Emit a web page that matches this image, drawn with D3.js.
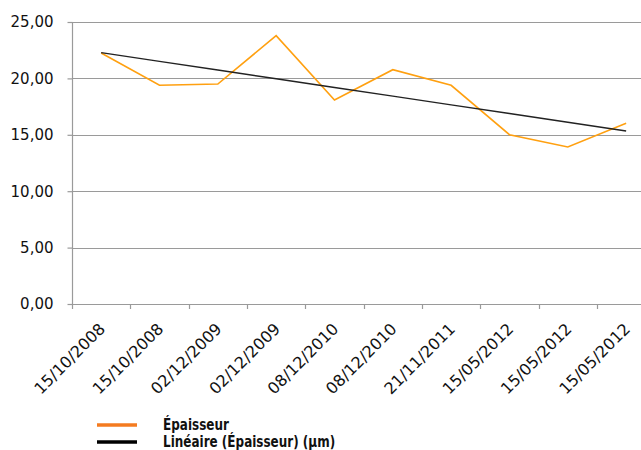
<!DOCTYPE html>
<html><head><meta charset="utf-8">
<script src="https://cdn.jsdelivr.net/npm/d3@7"></script>
<style>
html,body{margin:0;padding:0;background:#fff;}
svg{display:block;}
</style></head>
<body>
<svg id="c" width="641" height="450"></svg>
<script>
const categories = ["15/10/2008","15/10/2008","02/12/2009","02/12/2009","08/12/2010","08/12/2010","21/11/2011","15/05/2012","15/05/2012","15/05/2012"];
const epaisseur = [22.25, 19.39, 19.5, 23.79, 18.09, 20.77, 19.39, 15.01, 13.92, 16.02];
const yTicks = [0, 5, 10, 15, 20, 25];
const seriesNames = ["Épaisseur", "Linéaire (Épaisseur) (µm)"];

// linear trend (least squares) over category index
const n = epaisseur.length;
const xs = d3.range(1, n + 1);
const mx = d3.mean(xs), my = d3.mean(epaisseur);
const slope = d3.sum(xs, (xv, i) => (xv - mx) * (epaisseur[i] - my)) / d3.sum(xs, xv => (xv - mx) ** 2);
const intercept = my - slope * mx;
const trend = xs.map(xv => intercept + slope * xv);

const svg = d3.select("#c");
const pLeft = 72, pRight = 655.3, pTop = 22, pBottom = 304;

const x = d3.scaleBand().domain(d3.range(n)).range([pLeft, pRight]).paddingInner(0).paddingOuter(0);
const y = d3.scaleLinear().domain([0, 25]).range([pBottom, pTop]);
const fmt = v => d3.format(".2f")(v).replace(".", ",");

// gridlines
svg.append("g").selectAll("line").data(yTicks).join("line")
  .attr("x1", pLeft).attr("x2", 641)
  .attr("y1", d => Math.round(y(d)) + 0.5).attr("y2", d => Math.round(y(d)) + 0.5)
  .attr("stroke", "#9a9a9a").attr("stroke-width", 1.2);

// y axis
const yAxis = svg.append("g").attr("transform", `translate(${pLeft + 0.5},0)`)
  .call(d3.axisLeft(y).tickValues(yTicks).tickFormat(fmt).tickSize(5).tickPadding(14));
yAxis.select(".domain").attr("stroke", "#9a9a9a").attr("stroke-width", 1.2).attr("d", `M0,${pTop}V${pBottom}`);
yAxis.selectAll(".tick line").attr("stroke", "#9a9a9a").attr("stroke-width", 1.2);
yAxis.selectAll(".tick text").attr("font-family", "DejaVu Sans").attr("font-size", 15).attr("fill", "#111");

// x axis ticks at band boundaries
const xAxisG = svg.append("g");
xAxisG.selectAll("line").data(d3.range(n)).join("line")
  .attr("x1", d => Math.round(x(d)) + 0.5).attr("x2", d => Math.round(x(d)) + 0.5)
  .attr("y1", pBottom).attr("y2", pBottom + 5)
  .attr("stroke", "#9a9a9a").attr("stroke-width", 1.2);
xAxisG.selectAll("text").data(categories).join("text")
  .attr("transform", (d, i) => `translate(${x(i) + x.bandwidth() / 2 + 1},${pBottom + 22}) rotate(-45)`)
  .attr("text-anchor", "end").attr("dy", "0.35em")
  .attr("font-family", "DejaVu Sans").attr("font-size", 16).attr("fill", "#111")
  .text(d => d);

const cx = i => x(i) + x.bandwidth() / 2;
const line = d3.line().x((d, i) => cx(i)).y(d => y(d));

svg.append("path").datum(epaisseur).attr("d", line)
  .attr("fill", "none").attr("stroke", "#FFA010").attr("stroke-width", 1.6);
svg.append("path").datum(trend).attr("d", line)
  .attr("fill", "none").attr("stroke", "#222").attr("stroke-width", 1.4);

// legend
const legColors = ["#F47B20", "#000000"];
const leg = svg.append("g");
seriesNames.forEach((name, i) => {
  const yy = 425 + i * 17;
  leg.append("line").attr("x1", 97).attr("x2", 137).attr("y1", yy).attr("y2", yy)
    .attr("stroke", legColors[i]).attr("stroke-width", 3.5);
  leg.append("text").attr("transform", `translate(163,${yy}) scale(0.8,1)`).attr("dy", "0.35em")
    .attr("font-family", "'DejaVu Sans', sans-serif")
    .attr("font-weight", "bold").attr("font-size", 15).attr("fill", "#111")
    .text(name);
});
</script>
</body></html>
